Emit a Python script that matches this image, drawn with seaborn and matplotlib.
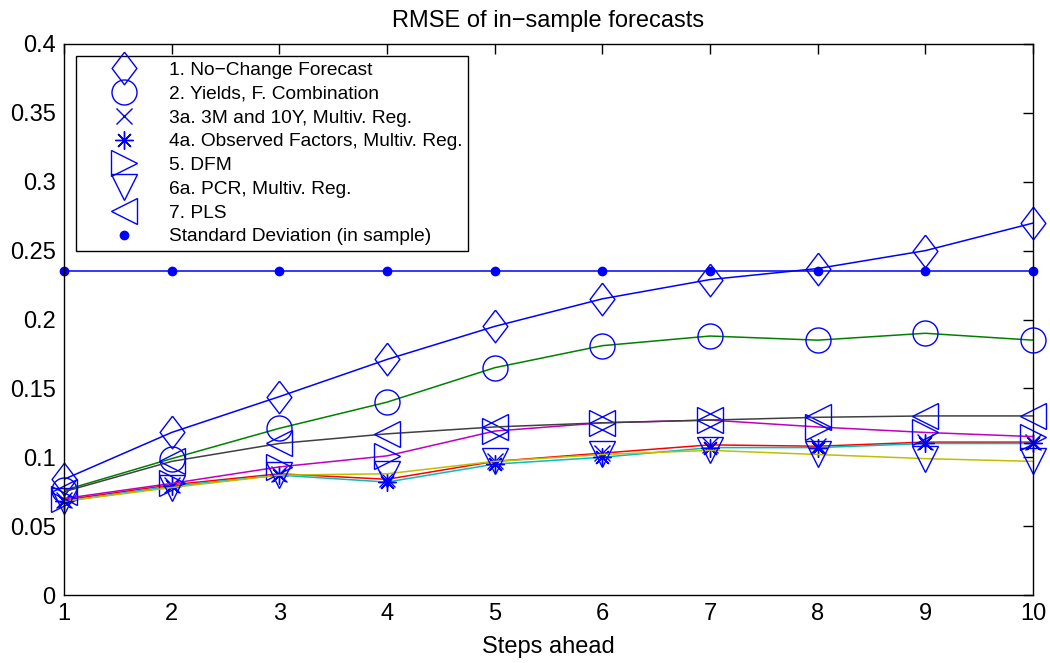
import matplotlib
matplotlib.use("Agg")
import matplotlib.pyplot as plt
import seaborn as sns
import numpy as np
import pandas as pd

steps = [1, 2, 3, 4, 5, 6, 7, 8, 9, 10]

labels = [
    "1. No\u2212Change Forecast",
    "2. Yields, F. Combination",
    "3a. 3M and 10Y, Multiv. Reg.",
    "4a. Observed Factors, Multiv. Reg.",
    "5. DFM",
    "6a. PCR, Multiv. Reg.",
    "7. PLS",
]

no_change = [0.084, 0.118, 0.144, 0.171, 0.195, 0.215, 0.229, 0.237, 0.250, 0.270]
yields_comb = [0.076, 0.099, 0.121, 0.140, 0.165, 0.181, 0.188, 0.185, 0.190, 0.185]
m3_10y = [0.069, 0.080, 0.088, 0.084, 0.097, 0.103, 0.109, 0.108, 0.111, 0.111]
obs_factors = [0.068, 0.079, 0.087, 0.082, 0.095, 0.100, 0.107, 0.107, 0.110, 0.110]
dfm = [0.070, 0.081, 0.093, 0.101, 0.119, 0.125, 0.127, 0.122, 0.118, 0.115]
pcr = [0.068, 0.078, 0.087, 0.088, 0.097, 0.102, 0.105, 0.102, 0.099, 0.097]
pls = [0.075, 0.097, 0.110, 0.117, 0.122, 0.125, 0.127, 0.129, 0.130, 0.130]
std_label = "Standard Deviation (in sample)"
std_dev = [0.235] * 10

series = [no_change, yields_comb, m3_10y, obs_factors, dfm, pcr, pls]
line_colors = [(0, 0, 1), (0, 0.5, 0), (1, 0, 0), (0, 0.75, 0.75),
               (0.75, 0, 0.75), (0.75, 0.75, 0), (0.25, 0.25, 0.25)]
diamond = [(0, 1), (0.76, 0), (0, -1), (-0.76, 0), (0, 1)]
markers = [diamond, "o", "x", (8, 2, 0), ">", "v", "<"]
msizes = [23.5, 18, 12, 13, 18.5, 18.5, 18.5]

sns.set_style("white")
plt.rcParams["font.family"] = ["Liberation Sans", "DejaVu Sans"]
plt.rcParams["text.color"] = "black"
plt.rcParams["axes.labelcolor"] = "black"

fig = plt.figure(figsize=(10.5, 6.63), dpi=100)
ax = fig.add_axes([64 / 1050, 68 / 663, 969 / 1050, 551 / 663])

handles = []
for vals, lab, col, mk, ms in zip(series, labels, line_colors, markers, msizes):
    df = pd.DataFrame({"step": steps, "rmse": vals})
    sns.lineplot(data=df, x="step", y="rmse", color=col, linewidth=1.1, ax=ax, legend=False)
    h, = ax.plot(df["step"], df["rmse"], linestyle="none", marker=mk, markersize=ms,
                 markerfacecolor="none", markeredgecolor="blue", markeredgewidth=1.0,
                 label=lab, clip_on=False)
    handles.append(h)

df_std = pd.DataFrame({"step": steps, "sd": std_dev})
sns.lineplot(data=df_std, x="step", y="sd", color="blue", linewidth=1.1, ax=ax, legend=False)
h, = ax.plot(df_std["step"], df_std["sd"], linestyle="none", marker="o", markersize=6,
             markerfacecolor="blue", markeredgecolor="blue", label=std_label, clip_on=False)
handles.append(h)

ax.set_xlim(1, 10)
ax.set_ylim(0, 0.4)
ax.set_xticks(steps)
yt = np.arange(0, 0.401, 0.05)
ax.set_yticks(yt)
ax.set_yticklabels(["0", "0.05", "0.1", "0.15", "0.2", "0.25", "0.3", "0.35", "0.4"])
ax.tick_params(direction="in", length=7, width=1, top=True, right=True,
               labelsize=17, colors="black", pad=6)
for s in ax.spines.values():
    s.set_visible(True)
    s.set_color("black")
    s.set_linewidth(1.0)

ax.set_title("RMSE of in\u2212sample forecasts", fontsize=17, pad=12, color="black")
ax.set_xlabel("Steps ahead", fontsize=17, labelpad=8, color="black")
ax.set_ylabel("")

leg = ax.legend(handles=handles, loc="upper left", bbox_to_anchor=(12 / 969, 1 - 12 / 551),
                borderaxespad=0, fontsize=13.8, frameon=True, fancybox=False,
                handlelength=4.4, handletextpad=0.15, labelspacing=0.33,
                borderpad=0.3, framealpha=1)
leg.get_frame().set_edgecolor("black")
leg.get_frame().set_linewidth(1.0)
for t in leg.get_texts():
    t.set_color("black")

fig.savefig("out.png", dpi=100)
